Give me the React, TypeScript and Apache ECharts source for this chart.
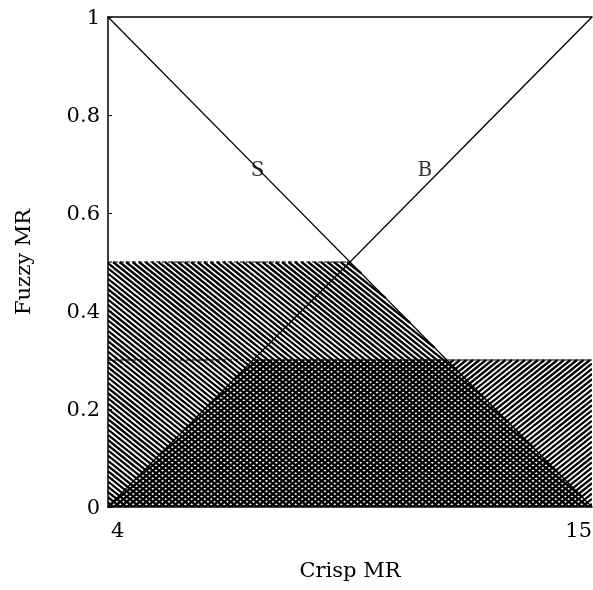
import React, { useEffect, useRef } from "react";
import * as echarts from "echarts";

// Universe of discourse (Crisp MR) and membership values at its ends
const xDomain = [4, 15];
const sMembership = [1, 0]; // "S" (small) set
const bMembership = [0, 1]; // "B" (big) set
const sCut = 0.5; // clipping level of S
const bCut = 0.3; // clipping level of B
const yTicks = [0, 0.2, 0.4, 0.6, 0.8, 1];
const xTickLabels = [4, 15];
const setLabels = [
  { name: "S", x: 7.4, y: 0.69 },
  { name: "B", x: 11.2, y: 0.69 },
];

const FONT = "DejaVu Serif";
const HATCH_SPACING = 6.5; // horizontal distance between hatch lines, px
const HATCH_SLOPE = 0.8; // screen slope of hatch lines
const HATCH_WIDTH = 2.3;

// x where the straight membership line reaches the value "cut"
function crossAt(vals: number[], cut: number) {
  const [x0, x1] = xDomain;
  const [y0, y1] = vals;
  return x0 + ((cut - y0) / (y1 - y0)) * (x1 - x0);
}

// hatch lines clipped to a convex polygon given in pixel coords
function hatchLines(pts: number[][], dir: 1 | -1) {
  // dir = 1 : "\" lines ; dir = -1 : "/" lines
  const g = (p: number[]) => p[1] - dir * HATCH_SLOPE * p[0];
  const step = HATCH_SLOPE * HATCH_SPACING;
  const vals = pts.map(g);
  const lo = Math.min(...vals);
  const hi = Math.max(...vals);
  const out: any[] = [];
  for (let c = Math.ceil(lo / step) * step; c <= hi; c += step) {
    const hits: number[][] = [];
    for (let i = 0; i < pts.length; i++) {
      const a = pts[i];
      const b = pts[(i + 1) % pts.length];
      const fa = g(a) - c;
      const fb = g(b) - c;
      if ((fa <= 0 && fb > 0) || (fa > 0 && fb <= 0)) {
        const t = fa / (fa - fb);
        hits.push([a[0] + t * (b[0] - a[0]), a[1] + t * (b[1] - a[1])]);
      }
    }
    if (hits.length >= 2) {
      hits.sort((p, q) => p[0] - q[0]);
      const p = hits[0];
      const q = hits[hits.length - 1];
      out.push({
        type: "line",
        shape: { x1: p[0], y1: p[1], x2: q[0], y2: q[1] },
        style: { stroke: "#000", lineWidth: HATCH_WIDTH },
        silent: true,
      });
    }
  }
  return out;
}

export default function App() {
  const ref = useRef<HTMLDivElement>(null);
  useEffect(() => {
    if (!ref.current) return;
    const chart = echarts.init(ref.current, null, { renderer: "svg", width: 593, height: 590 });
    const [x0, x1] = xDomain;
    const sx = crossAt(sMembership, sCut);
    const bx = crossAt(bMembership, bCut);

    const sClipped = [
      [x0, 0],
      [x0, sCut],
      [sx, sCut],
      [x1, sMembership[1]],
    ];
    const bClipped = [
      [x0, bMembership[0]],
      [bx, bCut],
      [x1, bCut],
      [x1, 0],
    ];

    const hatchSeries = (poly: number[][], dir: 1 | -1) => ({
      type: "custom",
      data: [[x0, 0]],
      clip: true,
      silent: true,
      z: 1,
      renderItem: (_params: any, api: any) => {
        const pts = poly.map((p) => api.coord(p));
        return { type: "group", children: hatchLines(pts, dir) };
      },
    });

    const tickText = { fontFamily: FONT, fontSize: 21, color: "#000" };

    chart.setOption({
      animation: false,
      textStyle: { fontFamily: FONT },
      grid: { left: 108, right: 1, top: 17, bottom: 83 },
      xAxis: [
        {
          type: "value",
          min: x0,
          max: x1,
          interval: xTickLabels[1] - xTickLabels[0],
          name: "Crisp MR",
          nameLocation: "middle",
          nameGap: 52,
          nameTextStyle: { ...tickText },
          axisLine: { show: true, onZero: false, lineStyle: { color: "#000", width: 1.5 } },
          axisTick: { show: false },
          splitLine: { show: false },
          axisLabel: { show: false },
        },
        {
          type: "value",
          position: "top",
          min: x0,
          max: x1,
          axisLine: { show: true, onZero: false, lineStyle: { color: "#000", width: 1.5 } },
          axisTick: { show: false },
          axisLabel: { show: false },
          splitLine: { show: false },
        },
      ],
      yAxis: {
        type: "value",
        min: yTicks[0],
        max: yTicks[yTicks.length - 1],
        interval: yTicks[1] - yTicks[0],
        name: "Fuzzy MR",
        nameLocation: "middle",
        nameGap: 75,
        nameTextStyle: { ...tickText },
        axisLine: { show: true, lineStyle: { color: "#000", width: 1.5 } },
        axisTick: { show: true, inside: true, length: 4, lineStyle: { color: "#000" } },
        splitLine: { show: false },
        axisLabel: { ...tickText, margin: 8 },
      },
      series: [
        hatchSeries(sClipped, 1),
        hatchSeries(bClipped, -1),
        {
          type: "line",
          data: [
            [x0, sCut],
            [sx, sCut],
          ],
          showSymbol: false,
          lineStyle: { color: "#000", width: 1, type: [4, 2] },
          z: 3,
        },
        {
          type: "line",
          data: [
            [x0, bCut],
            [bx, bCut],
          ],
          showSymbol: false,
          lineStyle: { color: "#000", width: 1, type: [4, 2] },
          z: 3,
        },
        {
          type: "line",
          data: [
            [bx, bCut],
            [x1, bCut],
          ],
          showSymbol: false,
          lineStyle: { color: "#000", width: 1.2 },
          z: 3,
        },
        {
          type: "line",
          data: [
            [x0, sMembership[0]],
            [x1, sMembership[1]],
          ],
          showSymbol: false,
          lineStyle: { color: "#000", width: 1.3 },
          z: 4,
        },
        {
          type: "line",
          data: [
            [x0, bMembership[0]],
            [x1, bMembership[1]],
          ],
          showSymbol: false,
          lineStyle: { color: "#000", width: 1.3 },
          z: 4,
        },
        {
          type: "scatter",
          data: setLabels.map((l) => ({ name: l.name, value: [l.x, l.y] })),
          symbolSize: 1,
          itemStyle: { color: "rgba(0,0,0,0)" },
          label: {
            show: true,
            position: "inside",
            formatter: "{b}",
            fontFamily: FONT,
            fontSize: 20,
            color: "#000",
          },
          z: 5,
        },
      ],
    });

    // x tick labels: first one starts at its tick, last one ends at its tick
    const graphics = xTickLabels.map((v, i) => {
      const p = chart.convertToPixel({ gridIndex: 0 }, [v, 0]) as number[];
      const first = i === 0;
      return {
        type: "text",
        x: first ? p[0] + 3 : p[0],
        y: p[1] + 12,
        style: {
          text: String(v),
          align: first ? "left" : "right",
          verticalAlign: "top",
          ...tickText,
          fill: "#000",
        },
      };
    });
    chart.setOption({ graphic: graphics });

    return () => chart.dispose();
  }, []);
  return (
    <div
      ref={ref}
      style={{ position: "fixed", left: 0, top: 0, width: 593, height: 590, overflow: "hidden" }}
    />
  );
}
